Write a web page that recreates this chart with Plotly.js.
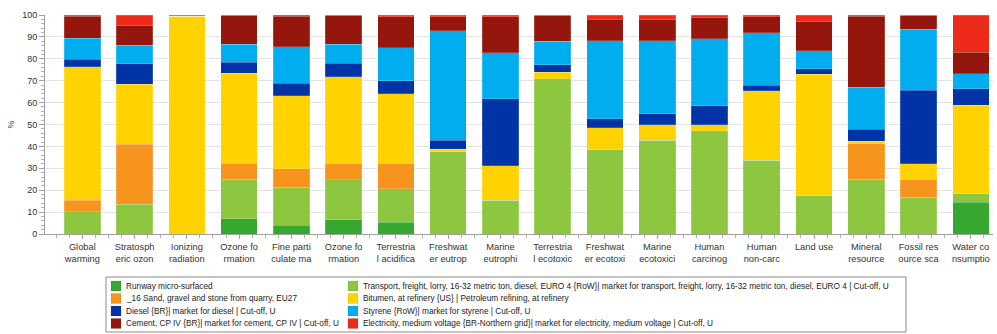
<!DOCTYPE html>
<html>
<head>
<meta charset="utf-8">
<script src="https://cdn.plot.ly/plotly-3.0.1.min.js"></script>
<style>
html,body{margin:0;padding:0;background:#fff;}
#chart{width:997px;height:334px;}
</style>
</head>
<body>
<div id="chart"></div>
<script>
// ---- data ----
const tickLabels = [
  "Global<br>warming", "Stratosph<br>eric ozon", "Ionizing<br>radiation", "Ozone fo<br>rmation",
  "Fine parti<br>culate ma", "Ozone fo<br>rmation", "Terrestria<br>l acidifica", "Freshwat<br>er eutrop",
  "Marine<br>eutrophi", "Terrestria<br>l ecotoxic", "Freshwat<br>er ecotoxi", "Marine<br>ecotoxici",
  "Human<br>carcinog", "Human<br>non-carc", "Land use", "Mineral<br>resource",
  "Fossil res<br>ource sca", "Water co<br>nsumptio"
];

const seriesNames = [
  "Runway micro-surfaced",
  "Transport, freight, lorry, 16-32 metric ton, diesel, EURO 4 {RoW}| market for transport, freight, lorry, 16-32 metric ton, diesel, EURO 4 | Cut-off, U",
  "_16 Sand, gravel and stone from quarry, EU27",
  "Bitumen, at refinery {US} | Petroleum refining, at refinery",
  "Diesel {BR}| market for diesel | Cut-off, U",
  "Styrene {RoW}| market for styrene | Cut-off, U",
  "Cement, CP IV {BR}| market for cement, CP IV | Cut-off, U",
  "Electricity, medium voltage {BR-Northern grid}| market for electricity, medium voltage | Cut-off, U"
];

const runway      = [0, 0, 0, 7.0, 4.1, 6.5, 5.3, 0, 0, 0, 0, 0, 0, 0, 0, 0, 0, 14.4];
const transport   = [10.2, 13.7, 0, 18.1, 17.3, 18.3, 15.4, 37.7, 15.5, 71.0, 38.4, 42.7, 47.1, 33.6, 17.6, 25.1, 16.7, 4.3];
const sand        = [5.3, 27.3, 0, 7.1, 8.5, 7.3, 11.4, 0, 0, 0, 0, 0, 0, 0, 0, 16.2, 8.1, 0];
const bitumen     = [60.9, 27.4, 99.4, 41.2, 33.2, 39.8, 32.0, 0.9, 15.7, 2.9, 10.1, 7.1, 2.7, 31.9, 55.3, 1.1, 7.3, 40.1];
const diesel      = [3.5, 9.4, 0, 5.0, 5.7, 6.1, 5.8, 4.3, 30.5, 3.3, 4.1, 5.2, 8.7, 2.4, 2.5, 5.5, 33.6, 7.5];
const styrene     = [9.5, 8.4, 0, 8.2, 16.8, 8.6, 15.2, 49.8, 21.1, 10.8, 35.7, 33.3, 30.6, 24.0, 8.3, 19.1, 27.9, 6.8];
const cement      = [10.1, 8.9, 0.6, 13.1, 13.9, 13.1, 14.1, 6.5, 16.4, 11.7, 9.7, 9.6, 9.7, 7.3, 13.3, 32.4, 6.1, 10.0];
const electricity = [0.5, 4.9, 0, 0.3, 0.5, 0.3, 0.8, 0.8, 0.8, 0.3, 2.0, 2.1, 1.2, 0.8, 3.0, 0.6, 0.3, 16.9];

const seriesValues = [runway, transport, sand, bitumen, diesel, styrene, cement, electricity];
const seriesColors = ["#36a832", "#8dc63f", "#f7941d", "#ffd200", "#0033a5", "#00aeef", "#94160c", "#ee2a1b"];
const yTicks = [0, 10, 20, 30, 40, 50, 60, 70, 80, 90, 100];

// ---- build ----
const xIdx = tickLabels.map((_, i) => i);
const FONT = "Liberation Sans, Arial, sans-serif";

const traces = seriesValues.map((vals, k) => ({
  type: "bar",
  x: xIdx,
  y: vals,
  name: seriesNames[k],
  width: 0.7,
  marker: { color: seriesColors[k], line: { color: "rgba(255,255,255,0.25)", width: 0.7 } },
  showlegend: false,
  hovertemplate: "%{y}%<extra>" + seriesNames[k] + "</extra>"
}));

// plot area in pixels (for converting legend positions to paper coords)
const W = 997, H = 334, mL = 45, mR = 4, mT = 15, mB = 100;
const pw = W - mL - mR, ph = H - mT - mB;
const px = v => (v - mL) / pw;
const py = v => (H - mB - v) / ph;

const shapes = [{
  type: "rect", xref: "paper", yref: "paper",
  x0: px(106), x1: px(906), y0: py(332), y1: py(277),
  line: { color: "#8a8a8a", width: 1 }, fillcolor: "rgba(0,0,0,0)"
}];
const annotations = [];
// legend: two columns, four rows (order: left col 0,2,4,6 ; right col 1,3,5,7)
seriesNames.forEach((nm, k) => {
  const col = k % 2, row = Math.floor(k / 2);
  const sx = col === 0 ? 111 : 348;
  const cy = 286 + row * 12.5;
  shapes.push({
    type: "rect", xref: "paper", yref: "paper",
    x0: px(sx), x1: px(sx + 10), y0: py(cy + 5), y1: py(cy - 5),
    line: { color: "rgba(0,0,0,0.15)", width: 0.5 }, fillcolor: seriesColors[k]
  });
  annotations.push({
    xref: "paper", yref: "paper", x: px(sx + 13), y: py(cy),
    xanchor: "left", yanchor: "middle", showarrow: false,
    text: nm, font: { family: FONT, size: 8.25, color: "#222" }
  });
});

const layout = {
  width: W, height: H,
  margin: { l: mL, r: mR, t: mT, b: mB, pad: 0 },
  paper_bgcolor: "#fff", plot_bgcolor: "#fff",
  barmode: "stack",
  showlegend: false,
  font: { family: FONT, size: 9, color: "#333" },
  xaxis: {
    type: "linear",
    range: [-0.714, 17.425],
    tickmode: "array",
    tickvals: xIdx,
    ticktext: tickLabels,
    ticks: "outside", ticklen: 4, tickcolor: "#a0a0a0", tickwidth: 1,
    minor: { dtick: 0.25, tick0: 0, ticks: "outside", ticklen: 3, tickcolor: "#b0b0b0", showgrid: false },
    showline: true, linecolor: "#a0a0a0", linewidth: 1,
    showgrid: false, zeroline: false,
    tickfont: { family: FONT, size: 9.3, color: "#333" },
    fixedrange: true
  },
  yaxis: {
    range: [0, 100],
    tickmode: "array",
    tickvals: yTicks,
    ticks: "outside", ticklen: 5, tickcolor: "#a0a0a0", tickwidth: 1,
    minor: { dtick: 2, tick0: 0, ticks: "outside", ticklen: 3, tickcolor: "#b0b0b0", showgrid: false },
    showline: true, linecolor: "#a0a0a0", linewidth: 1,
    showgrid: true, gridcolor: "#e3e3e3", gridwidth: 1,
    zeroline: false,
    tickfont: { family: FONT, size: 9, color: "#333" },
    title: { text: "%", font: { family: FONT, size: 9, color: "#333" }, standoff: 6 },
    fixedrange: true
  },
  shapes: shapes,
  annotations: annotations
};

Plotly.newPlot("chart", traces, layout, { displayModeBar: false, staticPlot: true });
</script>
</body>
</html>
